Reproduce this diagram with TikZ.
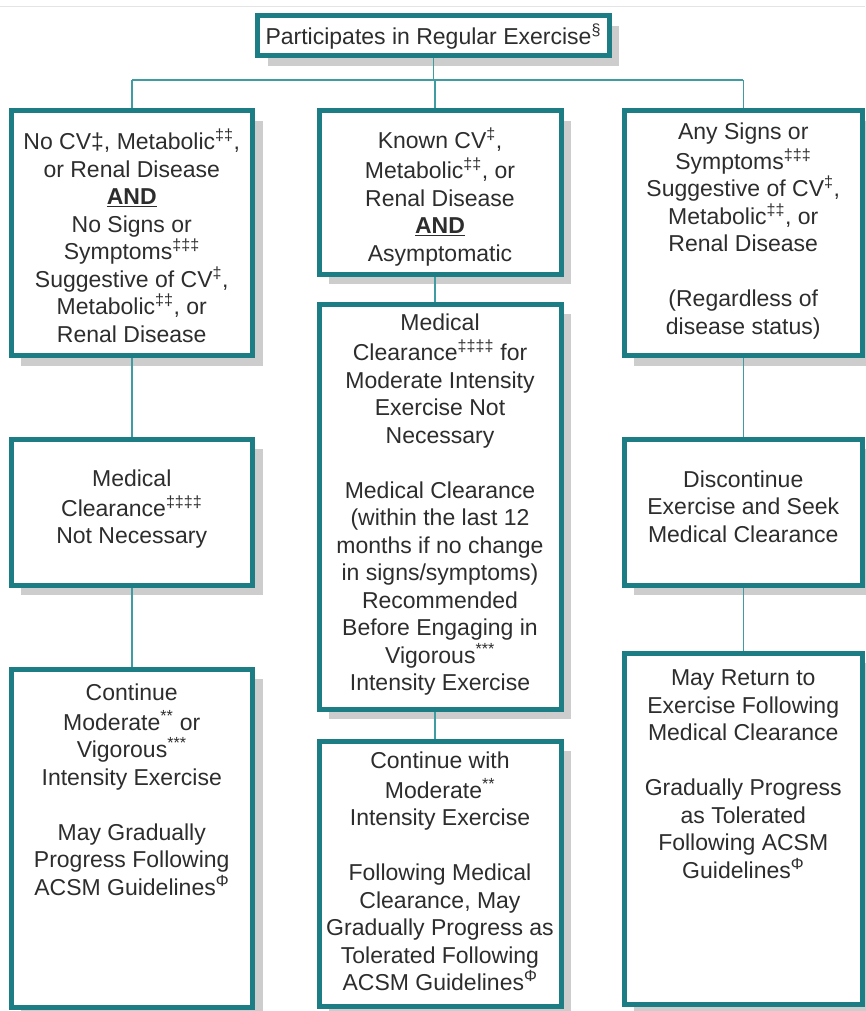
\documentclass[tikz,border=0pt]{standalone}
\usepackage{fontspec}
\setmainfont{Liberation Sans}
\usetikzlibrary{shadows}

\definecolor{boxteal}{RGB}{28,125,133}
\definecolor{linkteal}{RGB}{62,156,162}
\definecolor{shadowgray}{RGB}{205,205,205}
\definecolor{inkgray}{RGB}{45,45,45}
\definecolor{rulegray}{RGB}{228,228,228}

\newcommand{\panelfont}{\fontsize{23}{27.5}\selectfont}
\newcommand{\sx}[1]{\textsuperscript{#1}}

\tikzset{
  panel/.style={draw=boxteal, line width=5pt, fill=white, inner sep=0pt,
    drop shadow={shadow xshift=10pt, shadow yshift=-10pt, fill=shadowgray, opacity=1}},
  paneltext/.style={font=\panelfont, text=inkgray, align=center, anchor=north, inner sep=0pt},
  link/.style={draw=linkteal, line width=1.5pt}
}

\begin{document}
\begin{tikzpicture}[x=1pt, y=-1pt]
\useasboundingbox (0,0) rectangle (865,1011);

% thin rule along the top edge
\draw[rulegray, line width=1.5pt] (0,6.5) -- (865,6.5);

% panels
\node[panel, minimum width=351.5pt, minimum height=40pt]  (top) at (433.25,36) {};
\node[panel, minimum width=241.5pt, minimum height=244.5pt] (L1) at (131.75,233.25) {};
\node[panel, minimum width=242pt,   minimum height=163pt]   (M1) at (440,192.5) {};
\node[panel, minimum width=238.5pt, minimum height=244.5pt] (R1) at (743.25,233.25) {};
\node[panel, minimum width=241.5pt, minimum height=146pt]   (L2) at (131.75,512) {};
\node[panel, minimum width=242pt,   minimum height=405pt]   (M2) at (440,506.5) {};
\node[panel, minimum width=238.5pt, minimum height=146pt]   (R2) at (743.25,512) {};
\node[panel, minimum width=241.5pt, minimum height=338pt]   (L3) at (131.75,838) {};
\node[panel, minimum width=242pt,   minimum height=265pt]   (M3) at (440,873.5) {};
\node[panel, minimum width=238.5pt, minimum height=351pt]   (R3) at (743.25,828.5) {};

% panel texts
\node[paneltext, anchor=base] (topt) at (433.25,44.2) {Participates in Regular Exercise\sx{§}};

\node[paneltext] (L1t) at (131.75,129) {\strut No CV‡, Metabolic\sx{‡‡},\\ or Renal Disease\\ \underline{\textbf{AND}}\\ No Signs or\\ Symptoms\sx{‡‡‡}\\ Suggestive of CV\sx{‡},\\ Metabolic\sx{‡‡}, or\\ Renal Disease};

\node[paneltext] (M1t) at (440,128) {\strut Known CV\sx{‡},\\ Metabolic\sx{‡‡}, or\\ Renal Disease\\ \underline{\textbf{AND}}\\ Asymptomatic};

\node[paneltext] (R1t) at (743.25,120) {\strut Any Signs or\\ Symptoms\sx{‡‡‡}\\ Suggestive of CV\sx{‡},\\ Metabolic\sx{‡‡}, or\\ Renal Disease\\[27.5pt] (Regardless of\\ disease status)};

\node[paneltext] (L2t) at (131.75,467) {\strut Medical\\ Clearance\sx{‡‡‡‡}\\ Not Necessary};

\node[paneltext] (M2t) at (440,311.5) {\strut Medical\\ Clearance\sx{‡‡‡‡} for\\ Moderate Intensity\\ Exercise Not\\ Necessary\\[27.5pt] Medical Clearance\\ (within the last 12\\ months if no change\\ in signs/symptoms)\\ Recommended\\ Before Engaging in\\ Vigorous\sx{***}\\ Intensity Exercise};

\node[paneltext] (R2t) at (743.25,468) {\strut Discontinue\\ Exercise and Seek\\ Medical Clearance};

\node[paneltext] (L3t) at (131.75,681.5) {\strut Continue\\ Moderate\sx{**} or\\ Vigorous\sx{***}\\ Intensity Exercise\\[27.5pt] May Gradually\\ Progress Following\\ ACSM Guidelines\sx{Φ}};

\node[paneltext] (M3t) at (440,749.5) {\strut Continue with\\ Moderate\sx{**}\\ Intensity Exercise\\[27.5pt] Following Medical\\ Clearance, May\\ Gradually Progress as\\ Tolerated Following\\ ACSM Guidelines\sx{Φ}};

\node[paneltext] (R3t) at (743.25,666.5) {\strut May Return to\\ Exercise Following\\ Medical Clearance\\[27.5pt] Gradually Progress\\ as Tolerated\\ Following ACSM\\ Guidelines\sx{Φ}};

% connectors
\coordinate (hub) at (435,80);
\draw[link] (top.south) -- (top.south |- hub);
\draw[link] (L1.north |- hub) -- (R1.north |- hub);
\draw[link] (L1.north |- hub) -- (L1.north);
\draw[link] ([xshift=-5pt]M1.north |- hub) -- ([xshift=-5pt]M1.north);
\draw[link] (R1.north |- hub) -- (R1.north);

\draw[link] (L1.south) -- (L2.north);
\draw[link] (L2.south) -- (L3.north);
\draw[link] ([xshift=-5pt]M1.south) -- ([xshift=-5pt]M2.north);
\draw[link] ([xshift=-5pt]M2.south) -- ([xshift=-5pt]M3.north);
\draw[link] (R1.south) -- (R2.north);
\draw[link] (R2.south) -- (R3.north);
\end{tikzpicture}
\end{document}
